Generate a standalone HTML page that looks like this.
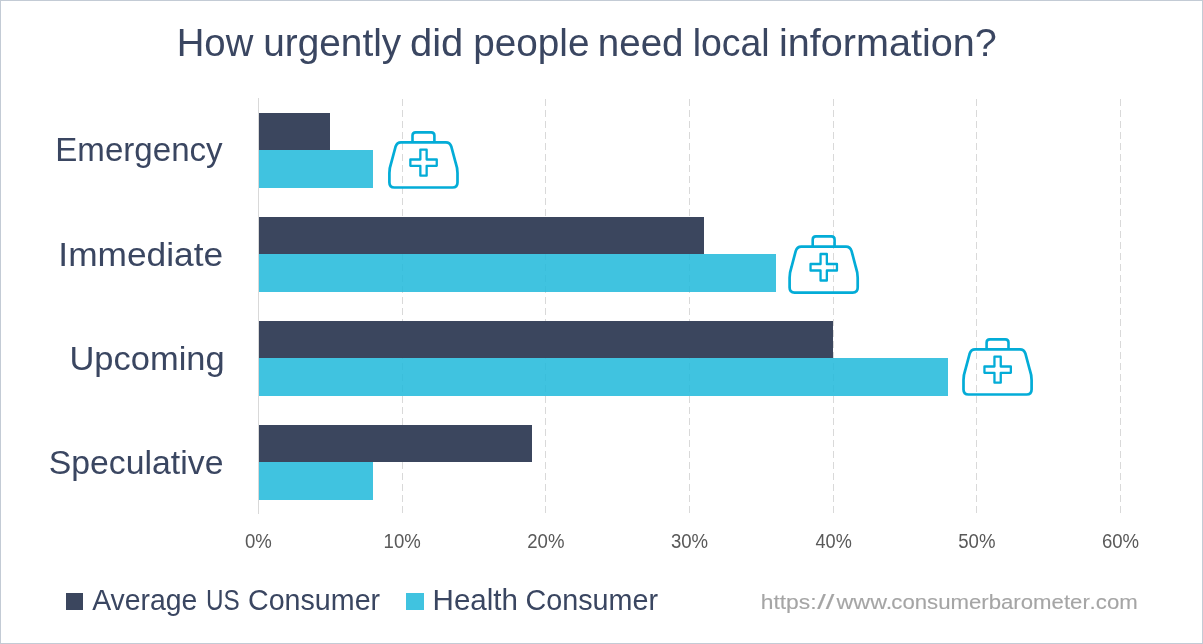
<!DOCTYPE html>
<html><head><meta charset="utf-8"><style>
html,body{margin:0;padding:0;background:#fff;}
.wrap{position:relative;width:1203px;height:644px;overflow:hidden;background:#fff;}
svg{position:absolute;left:0;top:0;will-change:transform;}
</style></head><body><div class="wrap">
<svg width="1203" height="644" viewBox="0 0 1203 644">
<rect x="0.5" y="0.5" width="1202" height="643" fill="#fff" stroke="#c3cbd5" stroke-width="1"/>
<line x1="402.5" y1="99" x2="402.5" y2="514" stroke="#d9d9d9" stroke-width="1" stroke-dasharray="7 4"/>
<line x1="545.5" y1="99" x2="545.5" y2="514" stroke="#d9d9d9" stroke-width="1" stroke-dasharray="7 4"/>
<line x1="689.5" y1="99" x2="689.5" y2="514" stroke="#d9d9d9" stroke-width="1" stroke-dasharray="7 4"/>
<line x1="833.5" y1="99" x2="833.5" y2="514" stroke="#d9d9d9" stroke-width="1" stroke-dasharray="7 4"/>
<line x1="976.5" y1="99" x2="976.5" y2="514" stroke="#d9d9d9" stroke-width="1" stroke-dasharray="7 4"/>
<line x1="1120.5" y1="99" x2="1120.5" y2="514" stroke="#d9d9d9" stroke-width="1" stroke-dasharray="7 4"/>
<rect x="259" y="113" width="71" height="37" fill="#3b465e"/>
<rect x="259" y="150" width="114" height="38" fill="rgb(30,184,218)" fill-opacity="0.85"/>
<rect x="259" y="217" width="445" height="37" fill="#3b465e"/>
<rect x="259" y="254" width="517" height="38" fill="rgb(30,184,218)" fill-opacity="0.85"/>
<rect x="259" y="321" width="574" height="37" fill="#3b465e"/>
<rect x="259" y="358" width="689" height="38" fill="rgb(30,184,218)" fill-opacity="0.85"/>
<rect x="259" y="425" width="273" height="37" fill="#3b465e"/>
<rect x="259" y="462" width="114" height="38" fill="rgb(30,184,218)" fill-opacity="0.85"/>
<line x1="258.5" y1="98" x2="258.5" y2="514" stroke="#d9d9d9" stroke-width="1"/>
<g><g fill="none" stroke="#03acd7"><path d="M 401 142.4 L 445.9 142.4 Q 449.9 142.4 451.4 146.8 L 455.59999999999997 162.5 Q 457.5 168 457.5 173 L 457.5 182.5 Q 457.5 187.5 452.5 187.5 L 394.4 187.5 Q 389.4 187.5 389.4 182.5 L 389.4 173 Q 389.4 168 391.3 162.5 L 395.5 146.8 Q 397.0 142.4 401 142.4 Z" stroke-width="2.7"/><path d="M 412.5 142.4 L 412.5 135.6 Q 412.5 132.4 415.7 132.4 L 431.2 132.4 Q 434.4 132.4 434.4 135.6 L 434.4 142.4" stroke-width="2.6"/><path d="M 420.35 149.65 H 426.65 V 159.5 H 436.75 V 165.85 H 426.65 V 175.7 H 420.35 V 165.85 H 410.35 V 159.5 H 420.35 Z" stroke-width="2.3" stroke-linejoin="round"/></g></g>
<g transform="translate(400.2 236.4) scale(1 1.019) translate(0 -132.4)"><g fill="none" stroke="#03acd7"><path d="M 401 142.4 L 445.9 142.4 Q 449.9 142.4 451.4 146.8 L 455.59999999999997 162.5 Q 457.5 168 457.5 173 L 457.5 182.5 Q 457.5 187.5 452.5 187.5 L 394.4 187.5 Q 389.4 187.5 389.4 182.5 L 389.4 173 Q 389.4 168 391.3 162.5 L 395.5 146.8 Q 397.0 142.4 401 142.4 Z" stroke-width="2.7"/><path d="M 412.5 142.4 L 412.5 135.6 Q 412.5 132.4 415.7 132.4 L 431.2 132.4 Q 434.4 132.4 434.4 135.6 L 434.4 142.4" stroke-width="2.6"/><path d="M 420.35 149.65 H 426.65 V 159.5 H 436.75 V 165.85 H 426.65 V 175.7 H 420.35 V 165.85 H 410.35 V 159.5 H 420.35 Z" stroke-width="2.3" stroke-linejoin="round"/></g></g>
<g transform="translate(574.1 207)"><g fill="none" stroke="#03acd7"><path d="M 401 142.4 L 445.9 142.4 Q 449.9 142.4 451.4 146.8 L 455.59999999999997 162.5 Q 457.5 168 457.5 173 L 457.5 182.5 Q 457.5 187.5 452.5 187.5 L 394.4 187.5 Q 389.4 187.5 389.4 182.5 L 389.4 173 Q 389.4 168 391.3 162.5 L 395.5 146.8 Q 397.0 142.4 401 142.4 Z" stroke-width="2.7"/><path d="M 412.5 142.4 L 412.5 135.6 Q 412.5 132.4 415.7 132.4 L 431.2 132.4 Q 434.4 132.4 434.4 135.6 L 434.4 142.4" stroke-width="2.6"/><path d="M 420.35 149.65 H 426.65 V 159.5 H 436.75 V 165.85 H 426.65 V 175.7 H 420.35 V 165.85 H 410.35 V 159.5 H 420.35 Z" stroke-width="2.3" stroke-linejoin="round"/></g></g>
<text x="176.72" y="55.9" font-family="'Liberation Sans', sans-serif" font-size="38.5" fill="#3a4661" textLength="76.61" lengthAdjust="spacingAndGlyphs">How</text>
<text x="263.29" y="55.9" font-family="'Liberation Sans', sans-serif" font-size="38.5" fill="#3a4661" textLength="137.88" lengthAdjust="spacingAndGlyphs">urgently</text>
<text x="409.92" y="55.9" font-family="'Liberation Sans', sans-serif" font-size="38.5" fill="#3a4661" textLength="53.36" lengthAdjust="spacingAndGlyphs">did</text>
<text x="473.29" y="55.9" font-family="'Liberation Sans', sans-serif" font-size="38.5" fill="#3a4661" textLength="116.14" lengthAdjust="spacingAndGlyphs">people</text>
<text x="597.8" y="55.9" font-family="'Liberation Sans', sans-serif" font-size="38.5" fill="#3a4661" textLength="85.76" lengthAdjust="spacingAndGlyphs">need</text>
<text x="692.79" y="55.9" font-family="'Liberation Sans', sans-serif" font-size="38.5" fill="#3a4661" textLength="76.83" lengthAdjust="spacingAndGlyphs">local</text>
<text x="779.02" y="55.9" font-family="'Liberation Sans', sans-serif" font-size="38.5" fill="#3a4661" textLength="217.78" lengthAdjust="spacingAndGlyphs">information?</text>
<text x="55.25" y="160.7" font-family="'Liberation Sans', sans-serif" font-size="32.6" fill="#3a4661" textLength="167.43" lengthAdjust="spacingAndGlyphs">Emergency</text>
<text x="58.35" y="265.7" font-family="'Liberation Sans', sans-serif" font-size="32.6" fill="#3a4661" textLength="164.84" lengthAdjust="spacingAndGlyphs">Immediate</text>
<text x="69.48" y="369.9" font-family="'Liberation Sans', sans-serif" font-size="32.6" fill="#3a4661" textLength="155.18" lengthAdjust="spacingAndGlyphs">Upcoming</text>
<text x="48.72" y="474" font-family="'Liberation Sans', sans-serif" font-size="32.6" fill="#3a4661" textLength="174.77" lengthAdjust="spacingAndGlyphs">Speculative</text>
<text x="245.02" y="548" font-family="'Liberation Sans', sans-serif" font-size="20" fill="#595959" textLength="26.87" lengthAdjust="spacingAndGlyphs">0%</text>
<text x="383.59" y="548" font-family="'Liberation Sans', sans-serif" font-size="20" fill="#595959" textLength="37.19" lengthAdjust="spacingAndGlyphs">10%</text>
<text x="527.26" y="548" font-family="'Liberation Sans', sans-serif" font-size="20" fill="#595959" textLength="37.19" lengthAdjust="spacingAndGlyphs">20%</text>
<text x="670.92" y="548" font-family="'Liberation Sans', sans-serif" font-size="20" fill="#595959" textLength="37.19" lengthAdjust="spacingAndGlyphs">30%</text>
<text x="815.52" y="548" font-family="'Liberation Sans', sans-serif" font-size="20" fill="#595959" textLength="36.23" lengthAdjust="spacingAndGlyphs">40%</text>
<text x="958.26" y="548" font-family="'Liberation Sans', sans-serif" font-size="20" fill="#595959" textLength="37.19" lengthAdjust="spacingAndGlyphs">50%</text>
<text x="1101.92" y="548" font-family="'Liberation Sans', sans-serif" font-size="20" fill="#595959" textLength="37.19" lengthAdjust="spacingAndGlyphs">60%</text>
<text x="92.2" y="609.8" font-family="'Liberation Sans', sans-serif" font-size="28.7" fill="#3a4661" textLength="105.23" lengthAdjust="spacingAndGlyphs">Average</text>
<text x="206.01" y="609.8" font-family="'Liberation Sans', sans-serif" font-size="28.7" fill="#3a4661" textLength="33.72" lengthAdjust="spacingAndGlyphs">US</text>
<text x="248.0" y="609.8" font-family="'Liberation Sans', sans-serif" font-size="28.7" fill="#3a4661" textLength="132.14" lengthAdjust="spacingAndGlyphs">Consumer</text>
<text x="432.54" y="609.8" font-family="'Liberation Sans', sans-serif" font-size="28.7" fill="#3a4661" textLength="85.46" lengthAdjust="spacingAndGlyphs">Health</text>
<text x="525.4" y="609.8" font-family="'Liberation Sans', sans-serif" font-size="28.7" fill="#3a4661" textLength="132.65" lengthAdjust="spacingAndGlyphs">Consumer</text>
<text x="760.69" y="608.8" font-family="'Liberation Sans', sans-serif" font-size="20.5" fill="#a5a5a5" stroke="#a5a5a5" stroke-width="0.12" textLength="55.89" lengthAdjust="spacingAndGlyphs">https:</text>
<text x="817.3" y="608.8" font-family="'Liberation Sans', sans-serif" font-size="20.5" fill="#a5a5a5" stroke="#a5a5a5" stroke-width="0.12" textLength="17.11" lengthAdjust="spacingAndGlyphs">//</text>
<text x="836.5" y="608.8" font-family="'Liberation Sans', sans-serif" font-size="20.5" fill="#a5a5a5" stroke="#a5a5a5" stroke-width="0.12" textLength="55.65" lengthAdjust="spacingAndGlyphs">www.</text>
<text x="891.32" y="608.8" font-family="'Liberation Sans', sans-serif" font-size="20.5" fill="#a5a5a5" stroke="#a5a5a5" stroke-width="0.12" textLength="198.47" lengthAdjust="spacingAndGlyphs">consumerbarometer</text>
<text x="1089.63" y="608.8" font-family="'Liberation Sans', sans-serif" font-size="20.5" fill="#a5a5a5" stroke="#a5a5a5" stroke-width="0.12" textLength="48.12" lengthAdjust="spacingAndGlyphs">.com</text>
<rect x="66" y="593" width="17" height="17" fill="#3b465e"/>
<rect x="406" y="593" width="18" height="17" fill="#40c3e0"/>
</svg></div></body></html>
